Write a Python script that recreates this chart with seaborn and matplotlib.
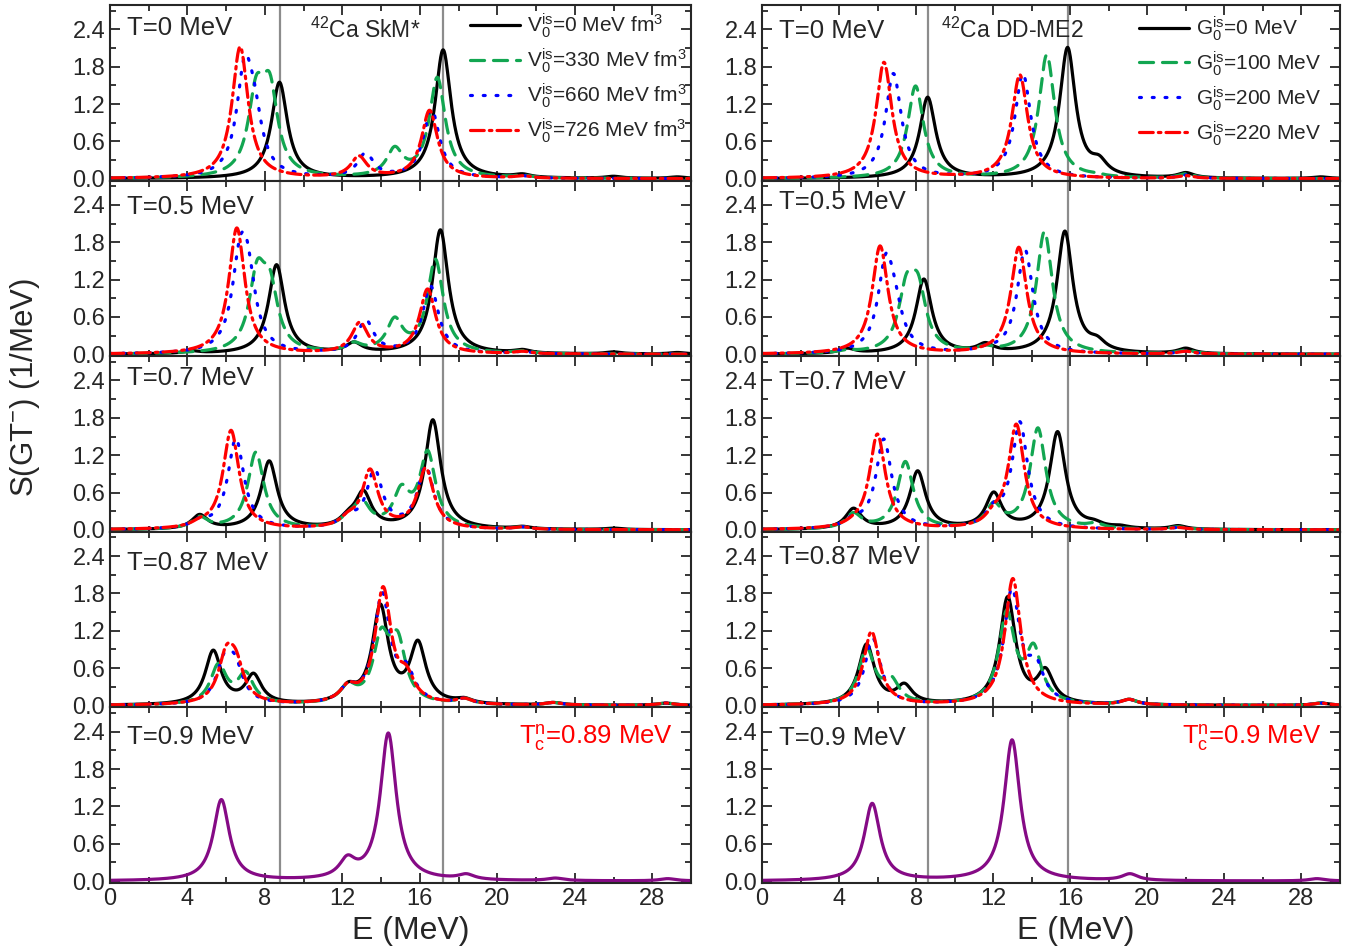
import numpy as np
import matplotlib
matplotlib.use('Agg')
import matplotlib.pyplot as plt
from matplotlib.ticker import MultipleLocator, FormatStrFormatter
import seaborn as sns

temps = ['T=0 MeV', 'T=0.5 MeV', 'T=0.7 MeV', 'T=0.87 MeV', 'T=0.9 MeV']
skm_labels = [r'$\mathrm{V}_0^{\mathrm{is}}$=0 MeV fm$^3$',
              r'$\mathrm{V}_0^{\mathrm{is}}$=330 MeV fm$^3$',
              r'$\mathrm{V}_0^{\mathrm{is}}$=660 MeV fm$^3$',
              r'$\mathrm{V}_0^{\mathrm{is}}$=726 MeV fm$^3$']
dd_labels = [r'$\mathrm{G}_0^{\mathrm{is}}$=0 MeV',
             r'$\mathrm{G}_0^{\mathrm{is}}$=100 MeV',
             r'$\mathrm{G}_0^{\mathrm{is}}$=200 MeV',
             r'$\mathrm{G}_0^{\mathrm{is}}$=220 MeV']
skm_vlines = [8.8, 17.2]
dd_vlines = [8.6, 15.9]
skm_tc = r'T$_\mathrm{c}^\mathrm{n}$=0.89 MeV'
dd_tc = r'T$_\mathrm{c}^\mathrm{n}$=0.9 MeV'

# (E, S) at peaks and shoulders; order: V0=0, 330, 660, 726
skm_T0 = [
    [(8.75, 1.55), (17.2, 2.07), (21.3, 0.08), (26.0, 0.04), (29.3, 0.03)],
    [(7.55, 1.66), (8.25, 1.70), (14.7, 0.52), (16.9, 1.63), (21.3, 0.06)],
    [(6.95, 1.97), (7.45, 1.55), (13.2, 0.42), (16.6, 1.12), (21.3, 0.05)],
    [(6.72, 2.12), (12.85, 0.37), (16.5, 1.10), (21.3, 0.05)],
]
skm_T05 = [
    [(4.2, 0.06), (8.6, 1.44), (12.6, 0.20), (17.06, 2.00), (21.3, 0.08), (26.0, 0.04), (29.3, 0.03)],
    [(7.6, 1.52), (8.25, 1.38), (12.6, 0.20), (14.7, 0.60), (16.8, 1.53), (21.3, 0.06)],
    [(6.7, 1.87), (7.1, 1.80), (13.2, 0.56), (16.55, 1.10), (21.3, 0.05)],
    [(6.55, 2.03), (12.9, 0.52), (16.4, 1.05), (21.3, 0.05)],
]
skm_T07 = [
    [(4.63, 0.25), (8.22, 1.11), (12.3, 0.33), (13.08, 0.64), (16.67, 1.77), (21.3, 0.06), (26.0, 0.03)],
    [(4.63, 0.22), (7.53, 1.25), (12.3, 0.30), (13.0, 0.50), (15.05, 0.73), (16.4, 1.28), (21.3, 0.05)],
    [(4.63, 0.20), (6.5, 1.47), (12.3, 0.30), (13.66, 0.98), (16.3, 1.03), (21.3, 0.05)],
    [(4.63, 0.20), (6.25, 1.60), (12.3, 0.30), (13.43, 0.98), (16.3, 1.00), (21.3, 0.05)],
]
skm_T087 = [
    [(5.33, 0.89), (7.41, 0.52), (12.3, 0.38), (13.96, 1.63), (15.9, 1.05), (18.3, 0.13), (22.9, 0.05), (28.7, 0.04)],
    [(5.6, 0.68), (7.0, 0.55), (12.3, 0.38), (14.0, 1.25), (14.85, 1.20), (18.3, 0.12), (22.9, 0.05), (28.7, 0.04)],
    [(5.9, 0.85), (6.45, 0.82), (12.3, 0.38), (14.05, 1.82), (15.3, 0.70), (18.3, 0.12), (22.9, 0.05), (28.7, 0.04)],
    [(6.0, 0.97), (6.5, 0.90), (12.3, 0.38), (14.1, 1.91), (15.3, 0.65), (18.3, 0.12), (22.9, 0.05), (28.7, 0.04)],
]
skm_T09 = [(5.75, 1.31), (12.26, 0.42), (14.37, 2.38), (17.2, 0.09), (18.4, 0.12), (23.0, 0.05), (28.8, 0.04)]

# order: G0=0, 100, 200, 220
dd_T0 = [
    [(8.6, 1.31), (15.86, 2.11), (17.5, 0.38), (22.0, 0.10), (29.0, 0.03)],
    [(7.97, 1.49), (14.78, 1.99), (17.3, 0.10), (22.0, 0.08)],
    [(6.82, 1.69), (13.54, 1.69), (22.0, 0.06)],
    [(6.33, 1.87), (13.38, 1.67), (22.0, 0.05)],
]
dd_T05 = [
    [(4.41, 0.10), (8.4, 1.21), (11.6, 0.19), (15.72, 1.98), (17.4, 0.30), (22.0, 0.10)],
    [(4.41, 0.08), (7.5, 1.30), (8.1, 1.30), (11.6, 0.15), (14.66, 1.97), (22.0, 0.07)],
    [(4.41, 0.10), (6.43, 1.62), (6.9, 1.20), (11.6, 0.15), (13.65, 1.68), (22.0, 0.05)],
    [(4.41, 0.12), (6.13, 1.74), (11.6, 0.15), (13.33, 1.72), (22.0, 0.05)],
]
dd_T07 = [
    [(4.75, 0.35), (8.08, 0.95), (12.03, 0.61), (15.34, 1.58), (17.25, 0.17), (18.6, 0.08), (21.6, 0.07)],
    [(4.75, 0.28), (7.44, 1.10), (12.03, 0.45), (14.32, 1.64), (17.3, 0.12), (21.6, 0.05)],
    [(4.75, 0.25), (6.32, 1.46), (12.03, 0.45), (13.38, 1.74), (21.6, 0.04)],
    [(4.75, 0.25), (5.99, 1.54), (12.03, 0.42), (13.2, 1.70), (21.6, 0.04)],
]
dd_T087 = [
    [(5.43, 0.99), (7.39, 0.36), (12.75, 1.75), (14.71, 0.61), (19.06, 0.10), (29.0, 0.04)],
    [(5.43, 0.93), (6.7, 0.48), (12.7, 1.53), (14.1, 1.00), (19.06, 0.10), (29.0, 0.04)],
    [(5.75, 1.08), (12.97, 1.89), (14.2, 0.80), (19.06, 0.10), (29.0, 0.04)],
    [(5.68, 1.19), (13.02, 2.04), (19.06, 0.10), (29.0, 0.04)],
]
dd_T09 = [(5.72, 1.25), (12.98, 2.27), (19.1, 0.12), (28.8, 0.04)]

skm_rows = [skm_T0, skm_T05, skm_T07, skm_T087, [skm_T09]]
dd_rows = [dd_T0, dd_T05, dd_T07, dd_T087, [dd_T09]]

width = 0.5  # Lorentzian half width (MeV)
energy = np.linspace(0, 30, 1201)


def strength(pts):
    ep = np.array([p[0] for p in pts])
    hp = np.array([p[1] for p in pts])
    mat = width**2 / ((ep[:, None] - ep[None, :])**2 + width**2)
    amp = np.clip(np.linalg.solve(mat, hp), 0, None)
    return (amp[None, :] * width**2 / ((energy[:, None] - ep[None, :])**2 + width**2)).sum(axis=1)


sns.set_style('ticks')
plt.rcParams['font.family'] = ['Liberation Sans', 'DejaVu Sans']
plt.rcParams['mathtext.fontset'] = 'custom'
plt.rcParams['mathtext.rm'] = 'Liberation Sans'
plt.rcParams['mathtext.it'] = 'Liberation Sans:italic'

styles = [dict(color='black', lw=2.3, linestyle='-'),
          dict(color='#12A651', lw=2.3, linestyle=(0, (4.4, 2.8))),
          dict(color='#0000FF', lw=2.3, linestyle=(0, (0.6, 3.4))),
          dict(color='#FF0000', lw=2.3, linestyle=(0, (4.3, 1.6, 0.8, 1.6)))]
purple = '#850A85'

fig = plt.figure(figsize=(13.64, 9.51), dpi=100)
col_left = [110 / 1364, 762 / 1364]
col_width = [581 / 1364, 578 / 1364]
xlabel_x = [0.518, 0.543]
temp_y = [[0.87, 0.85, 0.875, 0.825, 0.83], [0.85, 0.88, 0.855, 0.855, 0.825]]
legend_anchor = [(1.025, 1.07), (1.0, 1.055)]
title_x = [13.2, 13.0]
row_h = 175.6 / 951
top = 1 - 5 / 951

for c, (rows, labels, vls, title, tc) in enumerate([
        (skm_rows, skm_labels, skm_vlines, r'$^{42}$Ca SkM*', skm_tc),
        (dd_rows, dd_labels, dd_vlines, r'$^{42}$Ca DD-ME2', dd_tc)]):
    for r in range(5):
        ax = fig.add_axes([col_left[c], top - (r + 1) * row_h, col_width[c], row_h])
        if r < 4:
            for k, pts in enumerate(rows[r]):
                sns.lineplot(x=energy, y=strength(pts), ax=ax, label=labels[k] if r == 0 else None,
                             dash_capstyle='round', **styles[k])
        else:
            sns.lineplot(x=energy, y=strength(rows[r][0]), ax=ax, color=purple, lw=2.3)
            ax.text(0.968, 0.83, tc, transform=ax.transAxes, ha='right', va='center',
                    color='red', fontsize=18.5)
        for v in vls:
            ax.axvline(v, color='#8c8c8c', lw=1.6, zorder=0)
        ax.text(0.03, temp_y[c][r], temps[r], transform=ax.transAxes, ha='left', va='center',
                fontsize=18.5)
        if r == 0:
            ax.text(title_x[c], 2.39, title, ha='center', va='center', fontsize=16.5)
            ax.legend(loc='upper right', bbox_to_anchor=legend_anchor[c],
                      frameon=False, fontsize=15, handlelength=2.4, handletextpad=0.35,
                      labelspacing=0.3)
        elif ax.get_legend() is not None:
            ax.get_legend().remove()
        ax.set_xlim(0, 30)
        ax.set_ylim(-0.03, 2.79)
        ax.xaxis.set_major_locator(MultipleLocator(4))
        ax.xaxis.set_minor_locator(MultipleLocator(2))
        ax.yaxis.set_major_locator(MultipleLocator(0.6))
        ax.yaxis.set_minor_locator(MultipleLocator(0.3))
        ax.yaxis.set_major_formatter(FormatStrFormatter('%.1f'))
        ax.set_yticks([0, 0.6, 1.2, 1.8, 2.4])
        ax.tick_params(which='both', direction='in', top=True, right=True, width=1.3, labelsize=17)
        ax.tick_params(which='major', length=7)
        ax.tick_params(which='minor', length=4)
        for s in ax.spines.values():
            s.set_linewidth(1.5)
        ax.set_ylabel('')
        if r < 4:
            ax.tick_params(labelbottom=False)
            ax.set_xlabel('')
        else:
            ax.set_xticks([0, 4, 8, 12, 16, 20, 24, 28])
            ax.set_xlabel('E (MeV)', fontsize=23)
            ax.xaxis.set_label_coords(xlabel_x[c], -0.19)

fig.text(0.018, 0.592, 'S(GT$^{-}$) (1/MeV)', rotation=90, ha='center', va='center', fontsize=22.5)

fig.savefig('out.png', dpi=100)
